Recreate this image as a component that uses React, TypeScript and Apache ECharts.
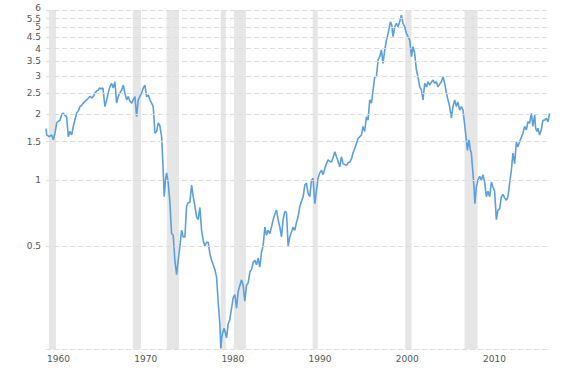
import React, { useEffect, useRef } from "react";
import * as echarts from "echarts";

const years = [
  1960.0, 1960.08, 1960.38, 1960.65, 1960.84, 1961.03, 1961.23, 1961.42, 1961.6, 1961.8, 1961.95,
  1962.15, 1962.37, 1962.56, 1962.75, 1962.95, 1963.13, 1963.33, 1963.52, 1963.71, 1963.9,
  1964.1, 1964.3, 1964.5, 1964.66, 1964.85, 1965.05, 1965.25, 1965.42, 1965.6, 1965.8, 1965.99,
  1966.15, 1966.35, 1966.53, 1966.76, 1966.96, 1967.15, 1967.33, 1967.53, 1967.71, 1967.9,
  1968.1, 1968.28, 1968.47, 1968.67, 1968.86, 1969.05, 1969.25, 1969.43, 1969.62, 1969.82,
  1970.0, 1970.2, 1970.39, 1970.58, 1970.78, 1970.97, 1971.15, 1971.34, 1971.54, 1971.73, 1971.92,
  1972.11, 1972.3, 1972.49, 1972.69, 1972.87, 1973.05, 1973.26, 1973.44, 1973.56, 1973.7, 1973.83,
  1974.01, 1974.21, 1974.4, 1974.59, 1974.78, 1974.98, 1975.16, 1975.36, 1975.55, 1975.73, 1975.93,
  1976.12, 1976.31, 1976.5, 1976.7, 1976.88, 1977.08, 1977.27, 1977.45, 1977.65, 1977.84,
  1978.03, 1978.22, 1978.41, 1978.6, 1978.8, 1978.99, 1979.17, 1979.37, 1979.56, 1979.74, 1979.94,
  1980.05, 1980.15, 1980.25, 1980.43, 1980.58, 1980.71, 1980.89, 1981.08, 1981.28, 1981.47, 1981.66, 1981.85,
  1982.04, 1982.23, 1982.43, 1982.61, 1982.8, 1983.0, 1983.19, 1983.38, 1983.57, 1983.76, 1983.95,
  1984.14, 1984.33, 1984.52, 1984.72, 1984.9, 1985.1, 1985.29, 1985.47, 1985.67, 1985.86,
  1986.05, 1986.25, 1986.44, 1986.62, 1986.82, 1987.01, 1987.19, 1987.39, 1987.58, 1987.77, 1987.96,
  1988.15, 1988.34, 1988.53, 1988.72, 1988.91, 1989.11, 1989.3, 1989.49, 1989.68, 1989.87,
  1990.06, 1990.25, 1990.45, 1990.63, 1990.83, 1991.02, 1991.2, 1991.4, 1991.59, 1991.78, 1991.97,
  1992.17, 1992.35, 1992.55, 1992.74, 1992.93, 1993.12, 1993.31, 1993.5, 1993.69, 1993.88,
  1994.07, 1994.27, 1994.46, 1994.65, 1994.84, 1995.03, 1995.21, 1995.41, 1995.6, 1995.79, 1995.98,
  1996.18, 1996.36, 1996.55, 1996.75, 1996.93, 1997.13, 1997.32, 1997.51, 1997.7, 1997.89,
  1998.08, 1998.27, 1998.47, 1998.65, 1998.85, 1999.04, 1999.23, 1999.5, 1999.65, 1999.8, 1999.99,
  2000.19, 2000.37, 2000.56, 2000.76, 2000.94, 2001.14, 2001.33, 2001.52, 2001.71, 2001.91,
  2002.09, 2002.28, 2002.48, 2002.66, 2002.86, 2003.05, 2003.24, 2003.43, 2003.63, 2003.81,
  2004.0, 2004.19, 2004.38, 2004.58, 2004.77, 2004.95, 2005.15, 2005.34, 2005.53, 2005.72, 2005.92,
  2006.1, 2006.29, 2006.49, 2006.67, 2006.87, 2007.06, 2007.24, 2007.44, 2007.64, 2007.82,
  2008.01, 2008.21, 2008.32, 2008.51, 2008.67, 2008.78, 2008.96, 2009.08, 2009.19, 2009.35, 2009.54, 2009.73, 2009.93,
  2010.11, 2010.31, 2010.5, 2010.69, 2010.88, 2011.08, 2011.26, 2011.45, 2011.65, 2011.83,
  2012.03, 2012.22, 2012.4, 2012.6, 2012.79, 2012.98, 2013.17, 2013.37, 2013.55, 2013.75, 2013.94,
  2014.12, 2014.32, 2014.51, 2014.7, 2014.89, 2015.09, 2015.27, 2015.46, 2015.66, 2015.84,
  2016.04, 2016.15, 2016.3, 2016.41, 2016.61, 2016.8, 2016.99, 2017.18, 2017.38, 2017.56, 2017.75,
];

const ratio = [
  1.72, 1.61, 1.58, 1.61, 1.53, 1.64, 1.83, 1.86, 1.88, 1.99, 2.03,
  1.98, 1.95, 1.58, 1.67, 1.61, 1.76, 1.9, 2.03, 2.08, 2.17,
  2.2, 2.26, 2.3, 2.33, 2.37, 2.42, 2.38, 2.41, 2.5, 2.56, 2.58,
  2.64, 2.62, 2.64, 2.17, 2.33, 2.52, 2.67, 2.77, 2.64, 2.82,
  2.25, 2.41, 2.5, 2.58, 2.72, 2.5, 2.33, 2.41, 2.3, 2.25,
  2.33, 2.41, 1.95, 2.33, 2.42, 2.5, 2.64, 2.72, 2.41, 2.45, 2.33,
  2.25, 2.17, 1.64, 1.67, 1.83, 1.78, 1.58, 1.11, 0.84, 1.0, 1.08,
  0.98, 0.79, 0.57, 0.56, 0.43, 0.37, 0.43, 0.5, 0.59, 0.55, 0.55,
  0.76, 0.79, 0.79, 0.95, 0.84, 0.76, 0.68, 0.66, 0.75, 0.59,
  0.53, 0.5, 0.52, 0.52, 0.46, 0.43, 0.41, 0.39, 0.36, 0.28, 0.22,
  0.17, 0.19, 0.2, 0.21, 0.2, 0.19, 0.22, 0.23, 0.26, 0.29, 0.3, 0.26,
  0.31, 0.33, 0.35, 0.33, 0.28, 0.33, 0.34, 0.38, 0.39, 0.42, 0.43,
  0.41, 0.44, 0.4, 0.47, 0.5, 0.61, 0.56, 0.59, 0.57, 0.61,
  0.66, 0.7, 0.73, 0.66, 0.61, 0.55, 0.66, 0.72, 0.71, 0.5, 0.55,
  0.58, 0.61, 0.59, 0.64, 0.68, 0.76, 0.8, 0.84, 0.95, 0.97,
  0.87, 0.84, 1.0, 1.02, 0.78, 0.9, 1.02, 1.08, 1.11, 1.06, 1.13,
  1.19, 1.24, 1.22, 1.21, 1.27, 1.35, 1.28, 1.22, 1.15, 1.28,
  1.19, 1.18, 1.17, 1.2, 1.21, 1.25, 1.33, 1.4, 1.47, 1.55, 1.58,
  1.61, 1.76, 1.67, 1.95, 1.88, 2.33, 2.25, 2.58, 2.97, 2.97,
  3.54, 3.67, 3.94, 3.42, 3.94, 4.37, 4.69, 5.3, 5.12, 4.53, 5.03,
  5.21, 5.03, 5.3, 5.69, 5.21, 5.03, 4.69, 4.53, 4.37, 3.67,
  4.08, 3.8, 3.19, 2.97, 2.67, 2.58, 2.33, 2.77, 2.67, 2.82,
  2.72, 2.8, 2.87, 2.77, 2.82, 2.67, 2.75, 2.82, 2.97, 2.77, 2.5,
  2.33, 2.17, 1.92, 2.17, 2.33, 2.17, 2.28, 2.09, 2.17, 2.09,
  1.8, 1.53, 1.37, 1.53, 1.37, 1.33, 1.08, 0.93, 0.78, 0.93, 1.0, 1.04, 1.0,
  1.06, 0.98, 0.84, 0.89, 0.84, 0.98, 0.93, 0.89, 0.66, 0.73,
  0.74, 0.84, 0.86, 0.83, 0.81, 0.84, 0.97, 1.11, 1.33, 1.19, 1.5,
  1.42, 1.5, 1.57, 1.64, 1.76, 1.7, 1.85, 1.82, 2.02, 1.76,
  1.99, 1.73, 1.67, 1.73, 1.61, 1.7, 1.88, 1.88, 1.92, 1.85, 2.02,
];

const recessionStart = [1960.33, 1969.96, 1973.85, 1980.04, 1981.54, 1990.58, 2001.2, 2008.0];
const recessionEnd = [1961.15, 1970.9, 1975.25, 1980.62, 1982.92, 1991.17, 2001.92, 2009.5];

const yTicks = [0.5, 1, 1.5, 2, 2.5, 3, 3.5, 4, 4.5, 5, 5.5, 6];
const yMin = 0.169;
const yMax = 6;
const xMin = 1960;
const xMax = 2017.8;
const xInterval = 10;

const FONT = "'DejaVu Sans', Verdana, sans-serif";
const LABEL_COLOR = "#555";
const GRID_COLOR = "#dddddd";

export default function App() {
  const ref = useRef<HTMLDivElement>(null);

  useEffect(() => {
    if (!ref.current) return;
    const chart = echarts.init(ref.current, undefined, { renderer: "svg" });
    const lineData = years.map((y, i) => [y, ratio[i]]);
    // the top labels sit very close together; nudge them apart slightly
    const labelNudge = (v: number) => (v === 6 ? -1.6 : v === 5.5 ? 0.4 : 0);
    chart.setOption({
      animation: false,
      backgroundColor: "#ffffff",
      grid: { left: 46, right: 34, top: 10, bottom: 19 },
      xAxis: {
        type: "value",
        min: xMin,
        max: xMax,
        interval: xInterval,
        axisLine: { show: true, lineStyle: { color: GRID_COLOR, type: [5, 3], width: 1 } },
        axisTick: { show: false },
        splitLine: { show: false },
        axisLabel: {
          show: true,
          showMaxLabel: false,
          align: "left",
          margin: 5,
          padding: [0, 0, 0, 1],
          color: LABEL_COLOR,
          fontFamily: FONT,
          fontSize: 9,
          formatter: (v: number) => (v % 10 === 0 ? String(v) : ""),
        },
      },
      yAxis: {
        type: "log",
        logBase: 10,
        min: yMin,
        max: yMax,
        axisLine: { show: false },
        axisTick: { show: false },
        axisLabel: { show: false },
        splitLine: { show: false },
      },
      series: [
        {
          type: "line",
          data: [],
          z: 1,
          silent: true,
          markArea: {
            silent: true,
            itemStyle: { color: "#e6e6e6" },
            data: recessionStart.map((s, i) => [{ xAxis: s }, { xAxis: recessionEnd[i] }]),
          },
        },
        {
          type: "line",
          data: [],
          z: 2,
          silent: true,
          markLine: {
            silent: true,
            symbol: ["none", "none"],
            lineStyle: { color: GRID_COLOR, type: [5, 3], width: 1 },
            label: {
              show: true,
              position: "start",
              distance: 5,
              color: LABEL_COLOR,
              fontFamily: FONT,
              fontSize: 9,
              lineHeight: 7,
            },
            data: yTicks.map((v) => ({
              yAxis: v,
              label: { formatter: String(v), offset: [0, labelNudge(v)] },
            })),
          },
        },
        {
          type: "line",
          data: lineData,
          z: 3,
          showSymbol: false,
          symbol: "none",
          lineStyle: { color: "#5b9fdc", width: 1.6 },
          itemStyle: { color: "#5b9fdc" },
        },
      ],
    });
    return () => chart.dispose();
  }, []);

  return (
    <div
      ref={ref}
      style={{ position: "fixed", left: 0, top: 0, width: 584, height: 368, background: "#fff" }}
    />
  );
}
